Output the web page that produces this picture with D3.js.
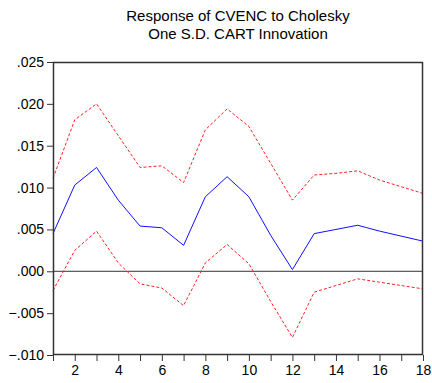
<!DOCTYPE html>
<html>
<head>
<meta charset="utf-8">
<script src="https://cdn.jsdelivr.net/npm/d3@7"></script>
<style>
  body { margin: 0; background: #fff; }
  text { font-family: "Liberation Sans", Arial, sans-serif; fill: #000; }
</style>
</head>
<body>
<svg width="432" height="383"></svg>
<script>
var periods = d3.range(1, 19);
var response = [0.0045, 0.0103, 0.0124, 0.0085, 0.0054, 0.0052, 0.0031, 0.0089, 0.0113, 0.0089,
                0.0043, 0.0002, 0.0045, 0.0050, 0.0055, 0.0048, 0.0042, 0.0036];
var upper = [0.0111, 0.0181, 0.0200, 0.0162, 0.0124, 0.0126, 0.0106, 0.0169, 0.0194, 0.0173,
             0.0129, 0.0085, 0.0115, 0.0117, 0.0120, 0.0109, 0.0101, 0.0093];
var lower = [-0.0023, 0.0025, 0.0048, 0.0010, -0.0015, -0.0020, -0.0041, 0.0010, 0.0032, 0.0009,
             -0.0036, -0.0079, -0.0025, -0.0017, -0.0009, -0.0013, -0.0017, -0.0021];
var yTicks = [-0.010, -0.005, 0.000, 0.005, 0.010, 0.015, 0.020, 0.025];
var xLabels = [2, 4, 6, 8, 10, 12, 14, 16, 18];
var titleLines = ["Response of CVENC to Cholesky", "One S.D. CART Innovation"];

var svg = d3.select("svg"),
    margin = {top: 62, right: 9, bottom: 28, left: 53},
    width = +svg.attr("width") - margin.left - margin.right,
    height = +svg.attr("height") - margin.top - margin.bottom;

var x = d3.scaleLinear().domain([1, 18]).range([margin.left, margin.left + width]);
var y = d3.scaleLinear().domain([-0.010, 0.025]).range([margin.top + height, margin.top]);

// title
svg.append("g").selectAll("text")
    .data(titleLines)
  .enter().append("text")
    .attr("x", margin.left + width / 2)
    .attr("y", function(d, i) { return 21 + i * 18; })
    .attr("text-anchor", "middle")
    .style("font-size", "15px")
    .text(function(d) { return d; });

// zero line
svg.append("line")
    .attr("x1", x(1)).attr("x2", x(18))
    .attr("y1", y(0)).attr("y2", y(0))
    .attr("stroke", "#333").attr("stroke-width", 1);

var line = d3.line()
    .x(function(d, i) { return x(periods[i]); })
    .y(function(d) { return y(d); });

svg.append("path").datum(upper)
    .attr("d", line).attr("fill", "none")
    .attr("stroke", "#ff2020").attr("stroke-width", 1)
    .attr("stroke-dasharray", "3,2");
svg.append("path").datum(lower)
    .attr("d", line).attr("fill", "none")
    .attr("stroke", "#ff2020").attr("stroke-width", 1)
    .attr("stroke-dasharray", "3,2");
svg.append("path").datum(response)
    .attr("d", line).attr("fill", "none")
    .attr("stroke", "#1010ff").attr("stroke-width", 1);

// axes
var yAxis = svg.append("g")
    .attr("transform", "translate(" + margin.left + ",0)")
    .call(d3.axisLeft(y).tickValues(yTicks).tickSize(6).tickPadding(3)
      .tickFormat(function(d) { return d3.format(".3f")(d).replace("0.", "."); }));
yAxis.select(".domain").remove();
yAxis.selectAll("text").style("font-size", "14px").attr("fill", "#000");
yAxis.selectAll("line").attr("stroke", "#333");

var xAxis = svg.append("g")
    .attr("transform", "translate(0," + (margin.top + height) + ")")
    .call(d3.axisBottom(x).tickValues(periods).tickSize(6).tickPadding(4)
      .tickFormat(function(d) { return xLabels.indexOf(d) >= 0 ? d : ""; }));
xAxis.select(".domain").remove();
xAxis.selectAll("text").style("font-size", "14px").attr("fill", "#000");
xAxis.selectAll("line").attr("stroke", "#333");

// frame
svg.append("rect")
    .attr("x", margin.left + 0.5).attr("y", margin.top + 0.5)
    .attr("width", width - 1).attr("height", height - 1)
    .attr("fill", "none").attr("stroke", "#333").attr("stroke-width", 1.5);
</script>
</body>
</html>
